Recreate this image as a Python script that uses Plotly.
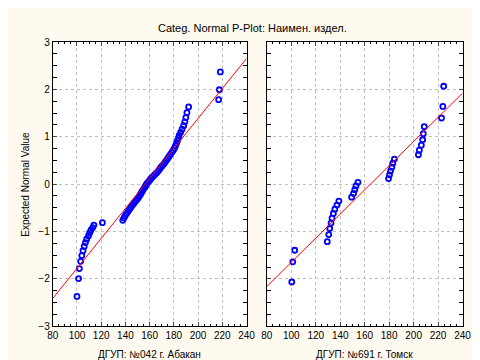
import plotly.graph_objects as go
from statistics import NormalDist

# ---- data ----
abakan_values = [100.0, 101.3, 102.0, 103.0, 104.0, 105.0, 106.0, 107.0, 108.0, 109.5,
                 110.5, 111.5, 113.0, 114.0, 121.0, 137.8, 138.8, 139.7, 140.8, 142.0,
                 143.1, 144.2, 145.3, 146.5, 147.7, 148.9, 150.1, 151.1, 152.0, 152.9,
                 153.7, 154.5, 155.5, 156.3, 157.1, 157.9, 159.2, 160.3, 161.4, 162.9,
                 164.3, 165.7, 166.9, 168.1, 169.0, 170.3, 171.7, 172.8, 173.9, 175.0,
                 176.1, 177.2, 178.4, 179.6, 180.6, 181.4, 182.2, 183.0, 183.8, 184.4,
                 185.6, 186.8, 188.1, 189.1, 189.9, 190.8, 192.2, 217.0, 217.6, 218.4]
tomsk_values = [100.4, 101.2, 102.8, 129.4, 130.6, 131.4, 132.5, 133.3, 134.4, 135.6,
                137.3, 138.9, 149.3, 150.9, 151.9, 152.9, 154.5, 179.5, 180.3, 181.1,
                182.2, 183.0, 184.3, 203.9, 204.7, 206.3, 207.4, 207.9, 208.7, 222.8,
                223.9, 224.6]
# fitted normal line parameters (mean, sd)
abakan_fit = (156.2, 31.6)
tomsk_fit = (164.7, 39.2)

panel_labels = ["ДГУП: №042 г. Абакан", "ДГУП: №691 г. Томск"]
title_text = "Categ. Normal P-Plot: Наимен. издел."
y_title = "Expected Normal Value"
x_ticks = [80, 100, 120, 140, 160, 180, 200, 220, 240]
y_ticks = [-3, -2, -1, 0, 1, 2, 3]

nd = NormalDist()


def expected_normal(vals):
    s = sorted(vals)
    n = len(s)
    z = [nd.inv_cdf((i - 0.375) / (n + 0.25)) for i in range(1, n + 1)]
    return s, z


W, H = 480, 360
BG = "#FFFAF0"
font = dict(family="Liberation Sans, Arial, sans-serif", size=10, color="#000000")

fig = go.Figure()
for k, (vals, fit) in enumerate([(abakan_values, abakan_fit), (tomsk_values, tomsk_fit)]):
    xa = "x" if k == 0 else "x2"
    ya = "y" if k == 0 else "y2"
    s, z = expected_normal(vals)
    fig.add_trace(go.Scatter(x=s, y=z, mode="markers", xaxis=xa, yaxis=ya,
                             marker=dict(symbol="circle-open", size=5, color="#0000FF",
                                         line=dict(width=1.8, color="#0000FF")),
                             showlegend=False, hoverinfo="skip"))
    lx = [x_ticks[0], x_ticks[-1]]
    ly = [(v - fit[0]) / fit[1] for v in lx]
    fig.add_trace(go.Scatter(x=lx, y=ly, mode="lines", xaxis=xa, yaxis=ya,
                             line=dict(color="#FF0000", width=1),
                             showlegend=False, hoverinfo="skip"))

common_x = dict(range=[80, 240], tickvals=x_ticks, ticks="inside", ticklen=4,
                showline=True, linecolor="black", linewidth=1, mirror="allticks",
                showgrid=True, gridcolor="#C0C0C0", griddash="dot", gridwidth=1,
                zeroline=False, tickfont=font,
                minor=dict(dtick=5, ticks="inside", ticklen=2, tickcolor="black", showgrid=False))
common_y = dict(range=[-3, 3], tickvals=y_ticks, ticks="inside", ticklen=4,
                showline=True, linecolor="black", linewidth=1, mirror="allticks",
                showgrid=True, gridcolor="#C0C0C0", griddash="dot", gridwidth=1,
                zeroline=False, tickfont=font,
                minor=dict(dtick=0.25, ticks="inside", ticklen=4, tickcolor="black", showgrid=False))

ydom = [1 - 323 / H, 1 - 29 / H]
fig.update_layout(
    width=W, height=H,
    margin=dict(l=0, r=0, t=0, b=0),
    paper_bgcolor=BG, plot_bgcolor="#FFFFFF",
    font=font,
    xaxis=dict(common_x, domain=[40 / W, 240 / W], anchor="y"),
    yaxis=dict(common_y, domain=ydom, anchor="x"),
    xaxis2=dict(common_x, domain=[261 / W, 463 / W], anchor="y2"),
    yaxis2=dict(common_y, domain=ydom, anchor="x2", showticklabels=False),
    annotations=[
        dict(text=title_text, x=246 / W, y=1 - 15 / H, xref="paper", yref="paper",
             showarrow=False, font=dict(font, size=11), xanchor="center", yanchor="middle"),
        dict(text=panel_labels[0], x=140 / W, y=1 - 352 / H, xref="paper", yref="paper",
             showarrow=False, font=font, xanchor="center", yanchor="middle"),
        dict(text=panel_labels[1], x=362 / W, y=1 - 352 / H, xref="paper", yref="paper",
             showarrow=False, font=font, xanchor="center", yanchor="middle"),
        dict(text=y_title, x=12 / W, y=1 - 176 / H, xref="paper", yref="paper",
             showarrow=False, font=font, textangle=-90, xanchor="center", yanchor="middle"),
    ],
)

fig.write_html("out.html")
